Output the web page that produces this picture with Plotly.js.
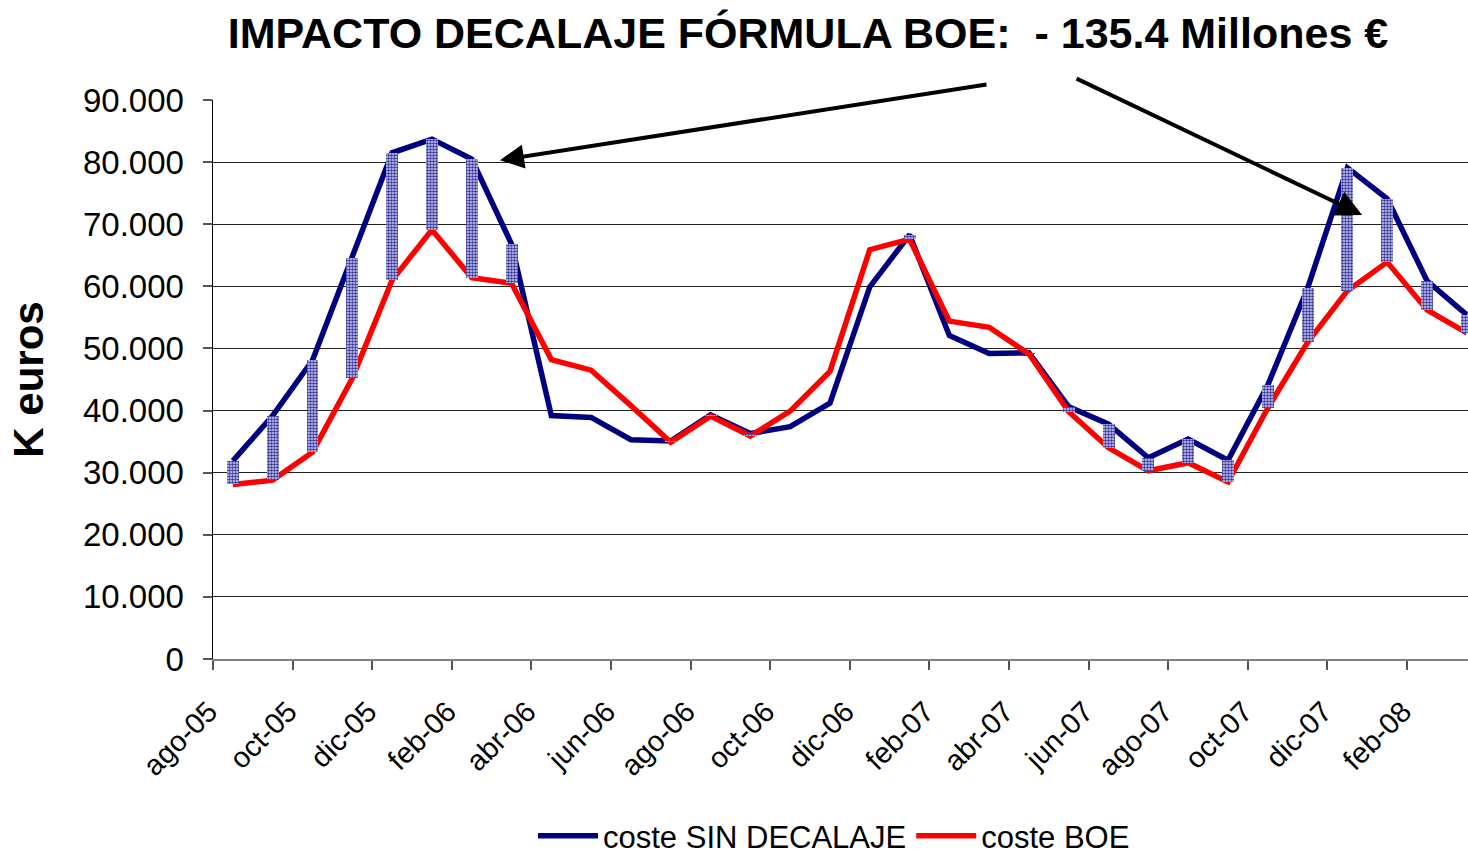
<!DOCTYPE html>
<html>
<head>
<meta charset="utf-8">
<script src="https://cdn.plot.ly/plotly-3.0.1.min.js"></script>
<style>
  html, body { margin: 0; padding: 0; background: #ffffff; overflow: hidden; }
  #chart { width: 1468px; height: 856px; }
</style>
</head>
<body>
<div id="chart"></div>
<script>
// ---- Data (K euros) ----
const months = ['ago-05','sep-05','oct-05','nov-05','dic-05','ene-06','feb-06','mar-06',
  'abr-06','may-06','jun-06','jul-06','ago-06','sep-06','oct-06','nov-06',
  'dic-06','ene-07','feb-07','mar-07','abr-07','may-07','jun-07','jul-07',
  'ago-07','sep-07','oct-07','nov-07','dic-07','ene-08','feb-08','mar-08'];

const costeSinDecalaje = [31900, 39200, 48100, 64600, 81500, 83700, 80500, 66800,
  39200, 38900, 35300, 35100, 39300, 36300, 37400, 41200,
  59900, 68300, 52100, 49200, 49300, 40600, 37800, 32400,
  35400, 32000, 44100, 59700, 79100, 74100, 60900, 55400];

const costeBOE = [28100, 28800, 33300, 45200, 61000, 69100, 61400, 60500,
  48200, 46500, 40800, 34900, 39100, 35900, 39900, 46300,
  65900, 67600, 54400, 53400, 49100, 39800, 34000, 30300,
  31600, 28500, 40400, 51000, 59300, 63900, 56200, 52500];

const tickLabels = months.filter((m, i) => i % 2 === 0);
const yTickVals = [0, 10000, 20000, 30000, 40000, 50000, 60000, 70000, 80000, 90000];
const yTickText = ['0', '10.000', '20.000', '30.000', '40.000', '50.000', '60.000', '70.000', '80.000', '90.000'];

const titleText = 'IMPACTO DECALAJE FÓRMULA BOE:&nbsp;&nbsp;- 135.4 Millones €';

// ---- Traces ----
const xIdx = months.map((m, i) => i);
const gapBase = costeBOE.slice();
const gapHeight = costeSinDecalaje.map((v, i) => (v > costeBOE[i] ? v - costeBOE[i] : null));

const traces = [
  {
    type: 'scatter', mode: 'lines', name: 'coste SIN DECALAJE',
    x: xIdx, y: costeSinDecalaje,
    line: { color: '#000080', width: 5.5 },
    hovertext: months
  },
  {
    type: 'scatter', mode: 'lines', name: 'coste BOE',
    x: xIdx, y: costeBOE,
    line: { color: '#ff0000', width: 5.5 },
    hovertext: months
  },
  {
    type: 'bar', name: 'diferencia', showlegend: false,
    x: xIdx, y: gapHeight, base: gapBase,
    xaxis: 'x2', yaxis: 'y2',
    width: 0.3,
    marker: {
      color: '#d4d4f0',
      line: { width: 0 },
      pattern: { shape: '.', fgcolor: '#34349c', bgcolor: '#d4d4f0', size: 3, solidity: 0.55, fillmode: 'replace' }
    }
  }
];

const xRange = [-0.5, 31.03];
const yRange = [0, 90000];
const font = 'Liberation Sans, Arial, sans-serif';

const layout = {
  width: 1468, height: 856,
  paper_bgcolor: '#ffffff', plot_bgcolor: '#ffffff',
  margin: { l: 213, r: 0, t: 100, b: 197 },
  font: { family: font, color: '#000000' },
  title: {
    text: titleText,
    font: { family: font, size: 43, color: '#000000', weight: 'bold' },
    x: 808 / 1468, xanchor: 'center', xref: 'container',
    y: 1 - 33 / 856, yanchor: 'middle', yref: 'container'
  },
  showlegend: true,
  legend: {
    orientation: 'h',
    xref: 'container', x: 834 / 1468, xanchor: 'center',
    yref: 'container', y: 1 - 836 / 856, yanchor: 'middle',
    font: { family: font, size: 31, color: '#000000' },
    itemwidth: 60, tracegroupgap: 0, bgcolor: 'rgba(0,0,0,0)'
  },
  xaxis: {
    range: xRange, autorange: false,
    tickmode: 'array', tickvals: xIdx.filter(i => i % 2 === 0), ticktext: tickLabels,
    tickangle: -45, ticks: '', showgrid: false, zeroline: false,
    tickfont: { family: font, size: 29, color: '#000000' },
    ticklabelshift: -24, ticklabelstandoff: 22,
    showline: true, linecolor: '#808080', linewidth: 2,
    minor: { tick0: -0.5, dtick: 2, ticks: 'outside', ticklen: 9, tickcolor: '#555555', tickwidth: 2, showgrid: false }
  },
  yaxis: {
    range: yRange, autorange: false,
    tickmode: 'array', tickvals: yTickVals, ticktext: yTickText,
    ticks: 'outside', ticklen: 9, tickcolor: '#555555', tickwidth: 2,
    tickfont: { family: font, size: 33, color: '#000000' },
    ticklabelstandoff: 12,
    showgrid: true, gridcolor: '#222222', gridwidth: 1.2,
    zeroline: false,
    showline: true, linecolor: '#000000', linewidth: 1.5,
    title: { text: 'K euros', font: { family: font, size: 42, color: '#000000', weight: 'bold' }, standoff: 26 }
  },
  xaxis2: { overlaying: 'x', range: xRange, autorange: false, visible: false },
  yaxis2: { overlaying: 'y', range: yRange, autorange: false, visible: false },
  bargap: 0,
  annotations: [
    {
      xref: 'x', yref: 'y', x: 6.71, y: 80300,
      axref: 'pixel', ayref: 'pixel', ax: 488, ay: -76,
      showarrow: true, arrowhead: 2, arrowsize: 1.2, arrowwidth: 4, arrowcolor: '#000000', text: ''
    },
    {
      xref: 'x', yref: 'y', x: 28.37, y: 71500,
      axref: 'pixel', ayref: 'pixel', ax: -287, ay: -137,
      showarrow: true, arrowhead: 2, arrowsize: 1.3, arrowwidth: 4, arrowcolor: '#000000', text: ''
    }
  ]
};

Plotly.newPlot('chart', traces, layout, { displayModeBar: false, staticPlot: true });
</script>
</body>
</html>
